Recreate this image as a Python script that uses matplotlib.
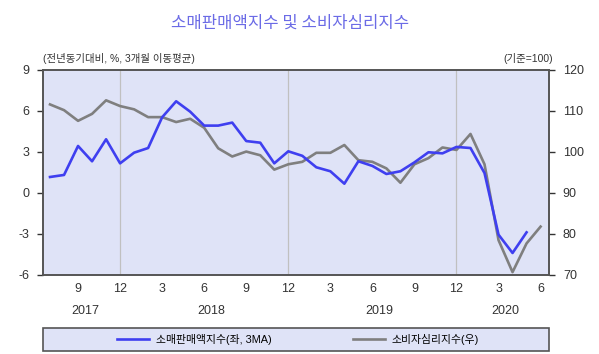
import matplotlib.pyplot as plt

plt.rcParams['font.family'] = ['Liberation Sans', 'Noto Sans CJK KR', 'DejaVu Sans']

# 2017-07 ~ 2020-06 monthly
month_labels = ['9', '12', '3', '6', '9', '12', '3', '6', '9', '12', '3', '6']
month_ticks = [2, 5, 8, 11, 14, 17, 20, 23, 26, 29, 32, 35]
years = ['2017', '2018', '2019', '2020']
year_pos = [2.5, 11.5, 23.5, 32.5]

retail = [1.17, 1.32, 3.44, 2.32, 3.93, 2.17, 2.95, 3.29, 5.54, 6.71, 5.95, 4.93,
          4.93, 5.15, 3.80, 3.68, 2.17, 3.05, 2.72, 1.88, 1.59, 0.68, 2.32, 1.98,
          1.39, 1.59, 2.24, 2.98, 2.90, 3.37, 3.29, 1.46, -3.05, -4.39, -2.88]
csi = [111.6, 110.2, 107.6, 109.3, 112.6, 111.2, 110.4, 108.5, 108.5, 107.3, 108.1, 105.9,
       100.9, 98.9, 100.1, 99.2, 95.7, 97.0, 97.6, 99.8, 99.8, 101.7, 98.0, 97.6,
       96.0, 92.5, 97.0, 98.5, 101.1, 100.5, 104.4, 97.0, 78.5, 70.7, 77.7, 81.8]

bg = '#dfe3f7'
blue = '#3f3ff0'
gray = '#7f7f7f'
spine = '#555555'

fig = plt.figure(figsize=(5.99, 3.54), dpi=100)
rect = [0.0718, 0.2232, 0.8447, 0.5791]
fig.patches.append(plt.Rectangle(rect[:2], rect[2], rect[3], transform=fig.transFigure,
                                 facecolor=bg, zorder=-10))
ax = fig.add_axes(rect)
ax2 = ax.twinx()
ax.set_zorder(ax2.get_zorder() + 1)
ax.patch.set_visible(False)
ax2.patch.set_visible(False)

for x in [5, 17, 29]:
    ax2.axvline(x, color='#c0c0c0', lw=0.9, zorder=0)

l1, = ax.plot(range(len(retail)), retail, color=blue, lw=1.9, zorder=3)
l2, = ax2.plot(range(len(csi)), csi, color=gray, lw=1.9, zorder=2)

ax.set_xlim(-0.5, 35.6)
ax.set_ylim(-6, 9)
ax.set_yticks([-6, -3, 0, 3, 6, 9])
ax.set_yticklabels(['-6', '-3', '0', '3', '6', '9'])
ax2.set_ylim(70, 120)
ax2.set_yticks([70, 80, 90, 100, 110, 120])

ax.set_xticks(month_ticks)
ax.set_xticklabels(month_labels)
ax.tick_params(axis='x', length=0, labelsize=9, colors='#333333', pad=6)
ax.tick_params(axis='y', length=4, width=1, labelsize=9, colors='#333333', pad=6, direction='out')
ax2.tick_params(axis='y', length=4, width=1, labelsize=9, colors='#333333', pad=6, direction='out')
for a in (ax, ax2):
    for s in a.spines.values():
        s.set_color(spine)
        s.set_linewidth(1.2)
        s.set_zorder(5)

for y, p in zip(years, year_pos):
    ax.text(p, -0.175, y, transform=ax.get_xaxis_transform(), ha='center', va='center',
            fontsize=9, color='#333333')

fig.text(0.485, 0.935, '소매판매액지수 및 소비자심리지수', ha='center', va='center',
         fontsize=12, color='#6b6be6', family=['Noto Sans CJK KR', 'DejaVu Sans'])
fig.text(0.072, 0.835, '(전년동기대비, %, 3개월 이동평균)', ha='left', va='center',
         fontsize=7.5, color='#333333')
fig.text(0.924, 0.835, '(기준=100)', ha='right', va='center', fontsize=7.5, color='#333333')

# legend box spanning the plot width
fig.patches.append(plt.Rectangle((0.0718, 0.008), 0.8447, 0.065, transform=fig.transFigure,
                                 facecolor=bg, edgecolor=spine, linewidth=1.2))
leg = fig.legend([l1, l2], ['소매판매액지수(좌, 3MA)', '소비자심리지수(우)'],
                 loc='center', bbox_to_anchor=(0.497, 0.0405),
                 ncol=2, fontsize=7.8, frameon=False,
                 handlelength=3, handletextpad=0.6, columnspacing=7.5)

fig.savefig('out.png', dpi=100)
